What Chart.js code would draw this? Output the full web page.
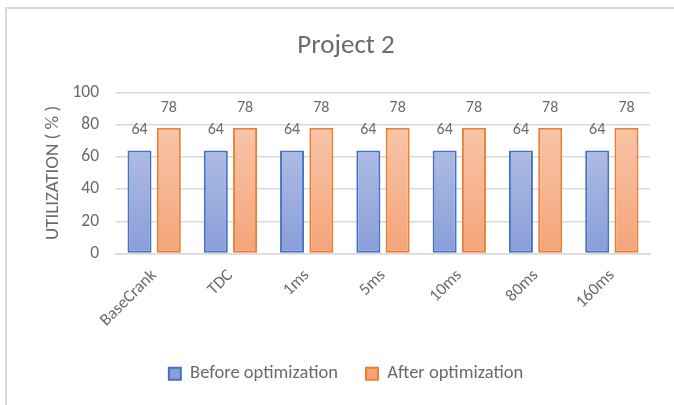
<!DOCTYPE html>
<html>
<head>
<meta charset="utf-8">
<script src="https://cdn.jsdelivr.net/npm/chart.js@4"></script>
<style>
  html, body { margin: 0; padding: 0; background: #fff; overflow: hidden; }
  #wrap { position: relative; width: 674px; height: 405px; overflow: hidden; }
  #frame { position: absolute; left: 5px; top: 7px; width: 720px; height: 450px; border: 2px solid #d9d9d9; box-sizing: border-box; }
  canvas { position: absolute; left: 0; top: 0; }
</style>
</head>
<body>
<div id="wrap">
  <div id="frame"></div>
  <canvas id="c" width="674" height="405"></canvas>
</div>
<script>
const categories = ['BaseCrank', 'TDC', '1ms', '5ms', '10ms', '80ms', '160ms'];
const beforeValues = [64, 64, 64, 64, 64, 64, 64];
const afterValues = [78, 78, 78, 78, 78, 78, 78];
const yTicks = [0, 20, 40, 60, 80, 100];
const chartTitle = 'Project 2';
const yTitle = 'UTILIZATION ( % )';
const seriesNames = ['Before optimization', 'After optimization'];

const FONT = "Carlito, Lato, 'Noto Sans', sans-serif";
const TXT = '#6b6b6b';

function gradFill(top, bottom, solid) {
  return (ctx) => {
    if (ctx.type !== 'data') return solid;
    const chart = ctx.chart;
    if (!chart.chartArea) return solid;
    const ys = chart.scales.y;
    const yt = ys.getPixelForValue(ctx.raw);
    const yb = ys.getPixelForValue(0);
    if (!isFinite(yt) || !isFinite(yb) || yt === yb) return solid;
    const g = chart.ctx.createLinearGradient(0, yt, 0, yb);
    g.addColorStop(0, top);
    g.addColorStop(1, bottom);
    return g;
  };
}

const dataLabels = {
  id: 'dataLabels',
  afterDatasetsDraw(chart) {
    const ctx = chart.ctx;
    ctx.save();
    ctx.font = '16px ' + FONT;
    ctx.fillStyle = TXT;
    ctx.textAlign = 'center';
    ctx.textBaseline = 'middle';
    chart.data.datasets.forEach((ds, di) => {
      const meta = chart.getDatasetMeta(di);
      meta.data.forEach((el, i) => {
        ctx.fillText(String(ds.data[i]), el.x, el.y - 20);
      });
    });
    ctx.restore();
  }
};

new Chart(document.getElementById('c'), {
  type: 'bar',
  data: {
    labels: categories,
    datasets: [
      {
        label: seriesNames[0],
        data: beforeValues,
        backgroundColor: gradFill('#aebbe3', '#889ed8', '#9cade0'),
        borderColor: '#4472c4',
        borderWidth: 2,
        borderSkipped: false,
        categoryPercentage: 0.768,
        barPercentage: 0.82
      },
      {
        label: seriesNames[1],
        data: afterValues,
        backgroundColor: gradFill('#f8c4a8', '#f4a478', '#f6b592'),
        borderColor: '#ed7d31',
        borderWidth: 2,
        borderSkipped: false,
        categoryPercentage: 0.768,
        barPercentage: 0.82
      }
    ]
  },
  options: {
    responsive: false,
    animation: false,
    layout: { padding: { left: 42, right: 24, top: 0, bottom: 12 } },
    plugins: {
      title: {
        display: true,
        text: chartTitle,
        color: TXT,
        font: { family: FONT, size: 27, weight: 'normal' },
        padding: { top: 30, bottom: 30 }
      },
      legend: {
        position: 'bottom',
        labels: {
          color: TXT,
          font: { family: FONT, size: 18.5 },
          boxWidth: 12,
          boxHeight: 12,
          padding: 28
        }
      },
      tooltip: { enabled: false }
    },
    scales: {
      x: {
        grid: { display: false, drawTicks: false },
        border: { display: true, color: '#d9d9d9', width: 1.5 },
        ticks: {
          color: TXT,
          font: { family: FONT, size: 17 },
          minRotation: 45,
          maxRotation: 45,
          padding: 12
        },
        afterFit(scale) { scale.height = 83; }
      },
      y: {
        min: 0,
        max: 100,
        afterBuildTicks(scale) { scale.ticks = yTicks.map(v => ({ value: v })); },
        grid: { color: '#d9d9d9', lineWidth: 1.5, drawTicks: false },
        border: { display: false },
        ticks: {
          color: TXT,
          font: { family: FONT, size: 17.5 },
          padding: 17
        },
        title: {
          display: true,
          text: yTitle,
          color: TXT,
          font: { family: FONT, size: 19 },
          padding: { top: 0, bottom: 0 }
        },
        afterFit(scale) { scale.width = 74; }
      }
    }
  },
  plugins: [dataLabels]
});
</script>
</body>
</html>
